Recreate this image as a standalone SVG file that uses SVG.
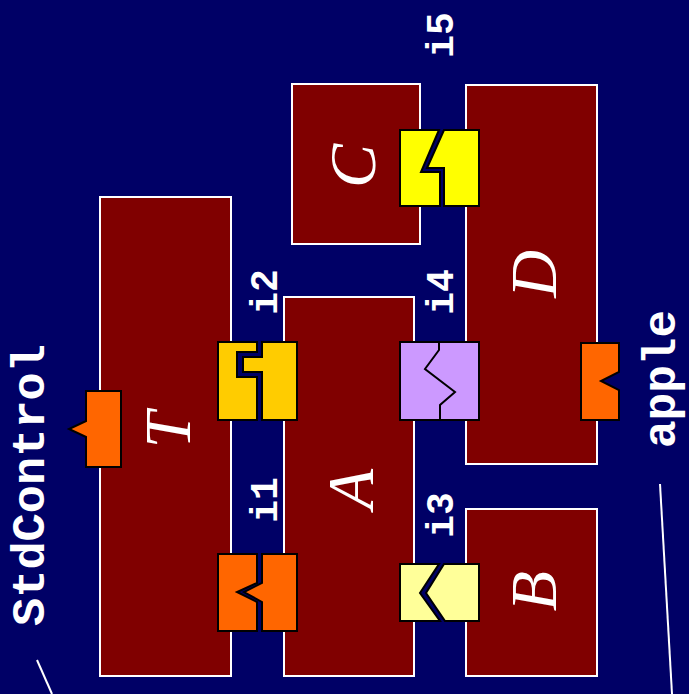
<svg xmlns="http://www.w3.org/2000/svg" width="689" height="694" viewBox="0 0 689 694">
<style>
.box{fill:#800000;stroke:#ffffff;stroke-width:2}
.pc{stroke:#000000;stroke-width:2;stroke-linejoin:miter}
.nm{font-family:"Liberation Serif","Times New Roman",serif;font-style:italic;font-size:66px;fill:#ffffff;text-anchor:middle}
.lb{font-family:"Liberation Mono","Courier New",monospace;font-weight:bold;fill:#ffffff;text-anchor:middle}
.ln{stroke:#ffffff;stroke-width:2;fill:none}
</style>
<rect x="0" y="0" width="689" height="694" fill="#000066"/>
<g id="T">
<rect class="box" x="100" y="197" width="131" height="479"/>
<text class="nm" transform="translate(190,430) rotate(-90)">T</text>
</g>
<g id="A">
<rect class="box" x="284" y="297" width="130" height="379"/>
<text class="nm" transform="translate(373,489) rotate(-90)">A</text>
</g>
<g id="B">
<rect class="box" x="466" y="509" width="131" height="167"/>
<text class="nm" transform="translate(556,591) rotate(-90)">B</text>
</g>
<g id="C">
<rect class="box" x="292" y="84" width="128" height="160"/>
<text class="nm" transform="translate(375,166) rotate(-90)">C</text>
</g>
<g id="D">
<rect class="box" x="466" y="85" width="131" height="379"/>
<text class="nm" transform="translate(556,274) rotate(-90)">D</text>
</g>
<g id="StdControl">
<polygon class="pc" fill="#ff6600" points="86,391 121,391 121,467 86,467 86,437 69,429 86,421"/>
<text class="lb" font-size="47" transform="translate(44,485) rotate(-90)">StdControl</text>
</g>
<g id="apple">
<polygon class="pc" fill="#ff6600" points="581,343 619,343 619,372 601,381 619,390 619,420 581,420"/>
<text class="lb" font-size="46" transform="translate(675,379) rotate(-90)">apple</text>
</g>
<g id="i1">
<polygon class="pc" fill="#ff6600" points="218,554 257,554 257,583 237,592 257,602 257,631 218,631"/>
<polygon class="pc" fill="#ff6600" points="262,554 297,554 297,631 262,631 262,602 244,592 262,583"/>
<text class="lb" font-size="38" transform="translate(277,500) rotate(-90)">i1</text>
</g>
<g id="i2">
<polygon class="pc" fill="#ffcc00" points="218,342 257,342 257,352 237,352 237,377 257,377 257,420 218,420"/>
<polygon class="pc" fill="#ffcc00" points="262,342 297,342 297,420 262,420 262,372 243,372 243,357 262,357"/>
<text class="lb" font-size="38" transform="translate(277,292) rotate(-90)">i2</text>
</g>
<g id="i3">
<polygon class="pc" fill="#ffff99" points="400,564 439,564 420,593 440,621 400,621"/>
<polygon class="pc" fill="#ffff99" points="444,564 479,564 479,621 445,621 426,593"/>
<text class="lb" font-size="38" transform="translate(453,515) rotate(-90)">i3</text>
</g>
<g id="i4">
<rect class="pc" fill="#cc99ff" x="400" y="342" width="79" height="78"/>
<polyline class="pc" fill="none" stroke-width="3" points="439,342 439,350 425,369 455,392 440,405 440,420"/>
<text class="lb" font-size="38" transform="translate(453,292) rotate(-90)">i4</text>
</g>
<g id="i5">
<polygon class="pc" fill="#ffff00" points="400,130 439,130 421,172 440,172 440,206 400,206"/>
<polygon class="pc" fill="#ffff00" points="444,130 479,130 479,206 444,206 444,168 427,168"/>
<text class="lb" font-size="38" transform="translate(453,35) rotate(-90)">i5</text>
</g>
<g id="connectors">
<line class="ln" x1="37" y1="660" x2="52" y2="694"/>
<line class="ln" x1="660" y1="484" x2="672" y2="694"/>
</g>
</svg>
